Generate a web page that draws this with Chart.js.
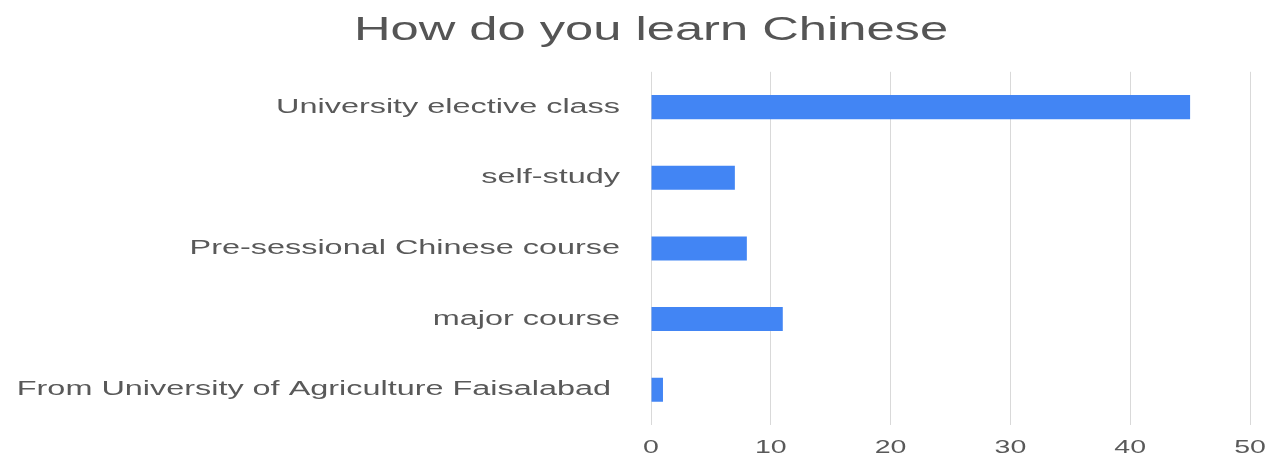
<!DOCTYPE html>
<html>
<head>
<meta charset="utf-8">
<script src="https://cdn.jsdelivr.net/npm/chart.js@4"></script>
<style>
html,body{margin:0;padding:0;background:#fff;}
#wrap{width:1267px;height:455px;position:relative;}
</style>
</head>
<body>
<div id="wrap"><canvas id="c" width="1267" height="455"></canvas></div>
<script>
const categories = ["University elective class", "self-study", "Pre-sessional Chinese course", "major course", "From University of Agriculture Faisalabad "];
const values = [45, 7, 8, 11, 1];
const xTicks = [0, 10, 20, 30, 40, 50];
const titleText = "How do you learn Chinese";

const FONT = "'Liberation Sans', Arial, sans-serif";

// The reference image is stretched horizontally; reproduce by widening text glyphs.
const stretchText = {
  id: 'stretchText',
  beforeDraw(chart) {
    const ctx = chart.ctx;
    if (ctx.__stretched) return;
    ctx.__stretched = true;
    const orig = CanvasRenderingContext2D.prototype.fillText;
    ctx.fillText = function (t, x, y) {
      const m = /(\d+(?:\.\d+)?)px/.exec(this.font);
      const size = m ? +m[1] : 12;
      const isTitle = size >= 30;
      const s = isTitle ? 1.49 : (size >= 20 ? 1.62 : 1.5);
      const dx = isTitle ? 26 : 0;
      this.save();
      this.translate(x + dx, y);
      this.scale(s, 1);
      orig.call(this, t, 0, 0);
      this.restore();
    };
  }
};

new Chart(document.getElementById('c'), {
  type: 'bar',
  data: {
    labels: categories,
    datasets: [{
      data: values,
      backgroundColor: '#4285f4',
      borderWidth: 0,
      barPercentage: 0.68,
      categoryPercentage: 0.5
    }]
  },
  options: {
    indexAxis: 'y',
    responsive: false,
    animation: false,
    layout: { padding: { left: 0, right: 17, top: 0, bottom: 0 } },
    plugins: {
      legend: { display: false },
      tooltip: { enabled: false },
      title: {
        display: true,
        text: titleText,
        color: '#555555',
        font: { family: FONT, size: 34, weight: 'normal' },
        padding: { top: 10, bottom: 21 }
      }
    },
    scales: {
      x: {
        min: xTicks[0],
        max: xTicks[xTicks.length - 1],
        afterBuildTicks: (axis) => { axis.ticks = xTicks.map(v => ({ value: v })); },
        afterFit: (axis) => { axis.height = 30; axis.paddingLeft = 0; axis.paddingRight = 0; },
        grid: { color: '#d9d9d9', lineWidth: 1, drawTicks: false },
        border: { display: false },
        ticks: {
          color: '#595959',
          font: { family: FONT, size: 19 },
          padding: 11
        }
      },
      y: {
        afterFit: (axis) => { axis.width = 651; axis.paddingTop = 0; axis.paddingBottom = 0; },
        grid: { display: false, drawTicks: false },
        border: { display: false },
        ticks: {
          color: '#595959',
          font: { family: FONT, size: 20 },
          padding: 31
        }
      }
    }
  },
  plugins: [stretchText]
});
</script>
</body>
</html>
